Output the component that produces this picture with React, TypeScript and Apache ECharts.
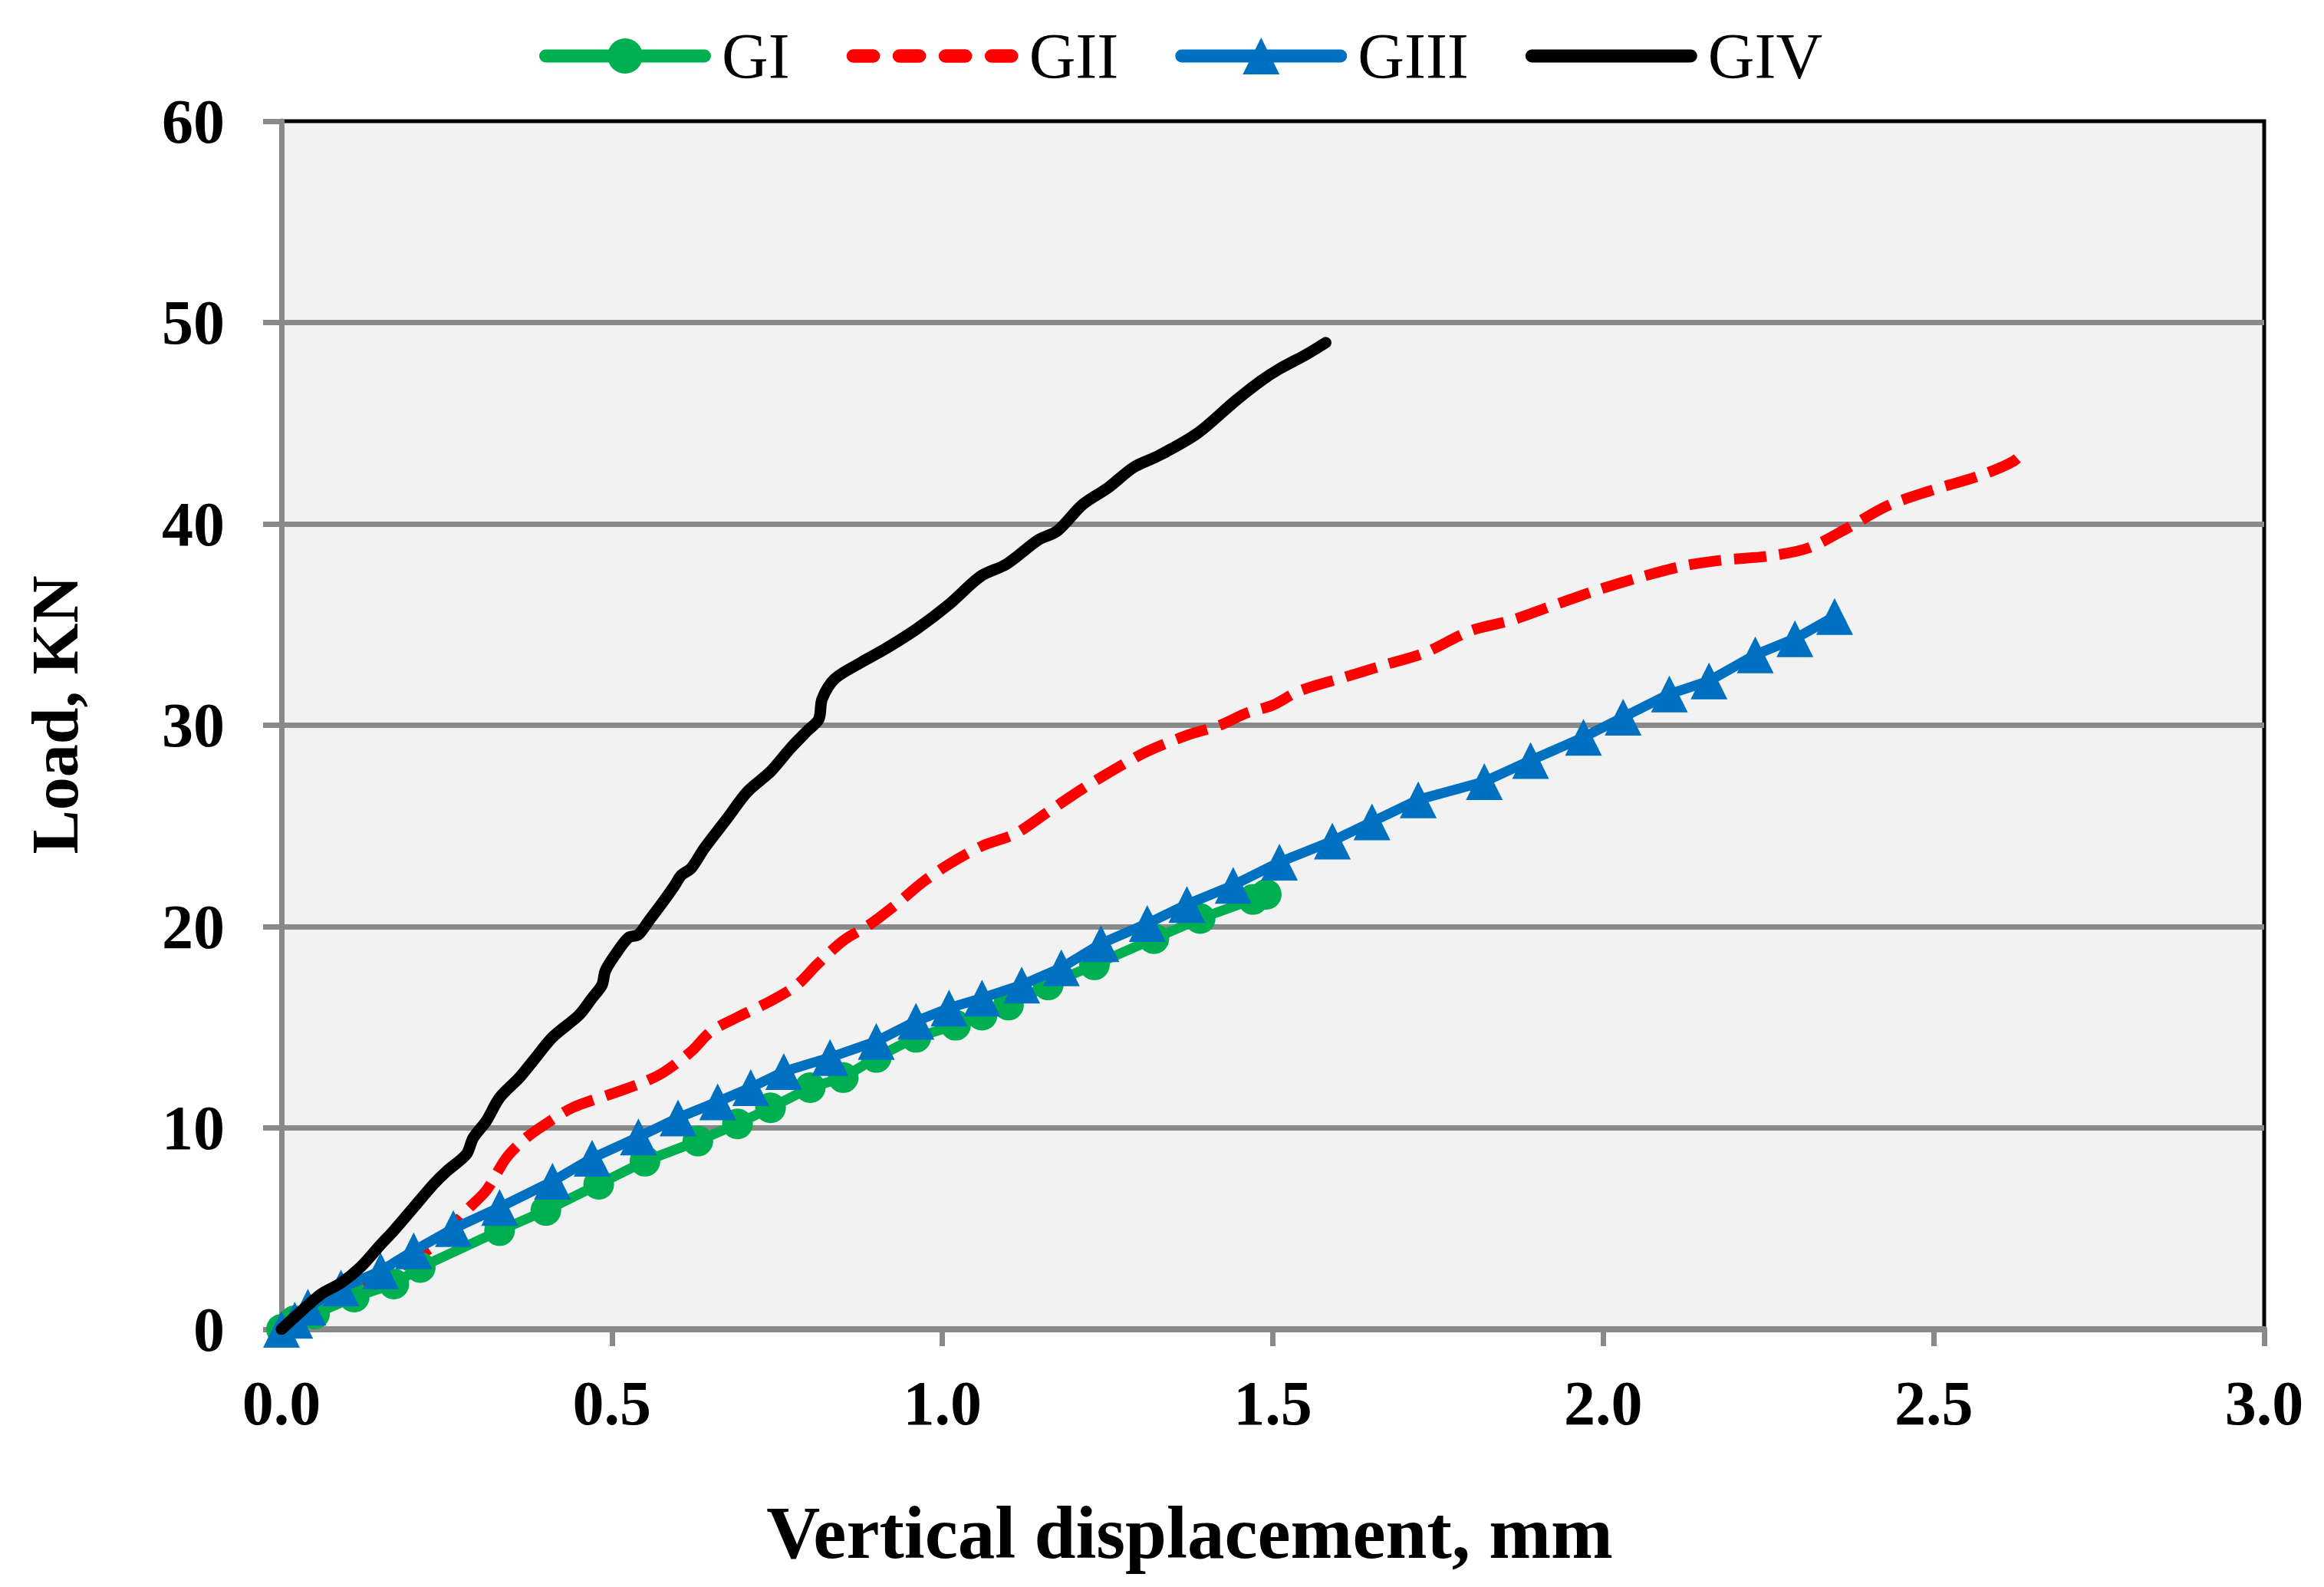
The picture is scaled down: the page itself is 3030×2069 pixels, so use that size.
import React, { useEffect, useRef } from "react";
import * as echarts from "echarts";

const SERIES_NAMES = ["GI", "GII", "GIII", "GIV"];
const X_AXIS_TITLE = "Vertical displacement, mm";
const Y_AXIS_TITLE = "Load, KN";

// [displacement (mm), load (kN)]
const GI: number[][] = [
  [0, 0], [0.02, 0.43], [0.05, 0.76], [0.11, 1.6], [0.17, 2.25], [0.21, 3.07],
  [0.33, 4.9], [0.4, 5.9], [0.48, 7.2], [0.55, 8.35], [0.63, 9.35], [0.69, 10.2],
  [0.74, 11.0], [0.8, 12.0], [0.85, 12.5], [0.9, 13.5], [0.96, 14.5], [1.02, 15.1],
  [1.06, 15.6], [1.1, 16.1], [1.16, 17.1], [1.23, 18.1], [1.32, 19.4], [1.39, 20.4],
  [1.47, 21.35], [1.49, 21.6],
];

const GII: number[][] = [
  [0, 0], [0.05, 0.8], [0.1, 1.7], [0.15, 2.6], [0.2, 3.5], [0.24, 4.4], [0.28, 5.9],
  [0.31, 6.9], [0.34, 8.5], [0.37, 9.5], [0.4, 10.2], [0.44, 11.0], [0.5, 11.7],
  [0.55, 12.3], [0.58, 12.8], [0.62, 13.8], [0.65, 14.8], [0.69, 15.5], [0.74, 16.3],
  [0.78, 17.1], [0.81, 18.1], [0.85, 19.3], [0.89, 20.1], [0.93, 21.1], [0.97, 22.2],
  [1.01, 23.1], [1.06, 24.0], [1.11, 24.6], [1.16, 25.7], [1.21, 26.8], [1.26, 27.8],
  [1.31, 28.7], [1.37, 29.5], [1.42, 30.0], [1.46, 30.6], [1.5, 31.0], [1.54, 31.7],
  [1.61, 32.4], [1.67, 33.0], [1.73, 33.6], [1.8, 34.7], [1.86, 35.2], [1.92, 35.9],
  [1.99, 36.7], [2.05, 37.3], [2.12, 37.9], [2.18, 38.2], [2.25, 38.4], [2.31, 38.8],
  [2.37, 39.8], [2.43, 40.9], [2.5, 41.7], [2.57, 42.4], [2.62, 43.1], [2.64, 43.7],
];

const GIII: number[][] = [
  [0, 0], [0.02, 0.45], [0.04, 1.1], [0.09, 2.05], [0.15, 2.9], [0.2, 3.9], [0.26, 5.0],
  [0.33, 6.05], [0.41, 7.35], [0.47, 8.5], [0.54, 9.55], [0.6, 10.5], [0.66, 11.3],
  [0.71, 12.0], [0.76, 12.8], [0.83, 13.5], [0.9, 14.3], [0.96, 15.3], [1.01, 15.95],
  [1.06, 16.45], [1.12, 17.1], [1.18, 17.95], [1.24, 19.15], [1.31, 20.15], [1.37, 21.1],
  [1.44, 22.05], [1.51, 23.2], [1.59, 24.25], [1.65, 25.2], [1.72, 26.3], [1.82, 27.2],
  [1.89, 28.25], [1.97, 29.4], [2.03, 30.4], [2.1, 31.55], [2.16, 32.2], [2.23, 33.5],
  [2.29, 34.3], [2.35, 35.4],
];

const GIV: number[][] = [
  [0, 0], [0.03, 0.9], [0.06, 1.75], [0.09, 2.3], [0.12, 3.1], [0.15, 4.2], [0.17, 4.9],
  [0.2, 6.05], [0.23, 7.2], [0.25, 7.85], [0.28, 8.7], [0.29, 9.5], [0.31, 10.35],
  [0.33, 11.5], [0.36, 12.5], [0.38, 13.3], [0.41, 14.5], [0.45, 15.6], [0.47, 16.45],
  [0.485, 17.1], [0.49, 17.8], [0.505, 18.6], [0.525, 19.45], [0.54, 19.6], [0.555, 20.25],
  [0.58, 21.35], [0.595, 22.05], [0.605, 22.55], [0.62, 22.9], [0.64, 23.9], [0.675, 25.4],
  [0.705, 26.7], [0.74, 27.7], [0.77, 28.85], [0.795, 29.7], [0.813, 30.3], [0.818, 31.3],
  [0.837, 32.3], [0.876, 33.1], [0.914, 33.8], [0.962, 34.8], [1.01, 36.0], [1.058, 37.4],
  [1.097, 38.0], [1.145, 39.2], [1.174, 39.65], [1.212, 40.95], [1.251, 41.8], [1.289, 42.8],
  [1.328, 43.4], [1.386, 44.5], [1.443, 46.1], [1.482, 47.1], [1.51, 47.7], [1.55, 48.4],
  [1.58, 49.0],
];

const X_MIN = 0, X_MAX = 3, X_STEP = 0.5;
const Y_MIN = 0, Y_MAX = 60, Y_STEP = 10;

const FONT = "'Liberation Serif', 'Times New Roman', serif";
const GRAY = "#898989";

// Legend icon geometry (icon box 224 x 60)
const R = 8.5; // half of legend line thickness
const bar = (a: number, b: number) =>
  `M${a + R},${30 - R}H${b - R}A${R},${R} 0 0 1 ${b - R},${30 + R}H${a + R}A${R},${R} 0 0 1 ${a + R},${30 - R}Z`;
const ICON_GI = "path://" + bar(0, 224) + "M89,30A23,23 0 1 1 135,30A23,23 0 1 1 89,30Z";
const ICON_GII = "path://" + bar(0, 43) + bar(59, 102) + bar(118, 161) + bar(177, 220);
const ICON_GIII = "path://" + bar(0, 224) + "M112,6L136,54L88,54Z";
const ICON_GIV = "path://" + bar(0, 224);

export default function App() {
  const ref = useRef<HTMLDivElement>(null);

  useEffect(() => {
    if (!ref.current) return;
    const chart = echarts.init(ref.current, undefined, { renderer: "svg" });
    const icons = [ICON_GI, ICON_GII, ICON_GIII, ICON_GIV];
    const option: any = {
      animation: false,
      backgroundColor: "#ffffff",
      legend: {
        data: SERIES_NAMES.map((name, i) => ({ name, icon: icons[i] })),
        left: 698,
        top: 26,
        itemWidth: 224,
        itemHeight: 60,
        itemGap: 74,
        textStyle: {
          fontFamily: FONT,
          fontSize: 84,
          fontWeight: "normal",
          color: "#000",
          padding: [0, 0, 0, 9],
        },
      },
      grid: {
        left: 367,
        right: 78,
        top: 158,
        bottom: 336,
        show: true,
        backgroundColor: "#f2f2f2",
        borderColor: "#000",
        borderWidth: 5,
      },
      xAxis: {
        type: "value",
        min: X_MIN,
        max: X_MAX,
        interval: X_STEP,
        axisLine: { show: true, lineStyle: { color: GRAY, width: 8 } },
        axisTick: { show: true, inside: false, length: 22, lineStyle: { color: GRAY, width: 7 } },
        splitLine: { show: false },
        axisLabel: {
          margin: 55,
          fontFamily: FONT,
          fontSize: 82,
          fontWeight: "bold",
          color: "#000",
          formatter: (v: number) => v.toFixed(1),
        },
      },
      yAxis: {
        type: "value",
        min: Y_MIN,
        max: Y_MAX,
        interval: Y_STEP,
        axisLine: { show: true, lineStyle: { color: GRAY, width: 7 } },
        axisTick: { show: true, inside: false, length: 24, lineStyle: { color: GRAY, width: 7 } },
        splitLine: { show: true, showMaxLine: false, lineStyle: { color: GRAY, width: 7 } },
        axisLabel: {
          margin: 74,
          fontFamily: FONT,
          fontSize: 82,
          fontWeight: "bold",
          color: "#000",
        },
      },
      graphic: [
        {
          type: "text",
          x: 1551,
          y: 1998,
          style: {
            text: X_AXIS_TITLE,
            fontFamily: FONT,
            fontSize: 97,
            fontWeight: "bold",
            fill: "#000",
            textAlign: "center",
            textVerticalAlign: "middle",
          },
        },
        {
          type: "text",
          x: 72,
          y: 932,
          rotation: Math.PI / 2,
          style: {
            text: Y_AXIS_TITLE,
            fontFamily: FONT,
            fontSize: 86,
            fontWeight: "bold",
            fill: "#000",
            textAlign: "center",
            textVerticalAlign: "middle",
          },
        },
      ],
      series: [
        {
          name: "GI",
          type: "line",
          data: GI,
          z: 3,
          symbol: "circle",
          symbolSize: 40,
          showSymbol: true,
          itemStyle: { color: "#00B050" },
          lineStyle: { color: "#00B050", width: 13, cap: "round", join: "round" },
        },
        {
          name: "GII",
          type: "line",
          data: GII,
          z: 2,
          symbol: "none",
          smooth: 0.3,
          itemStyle: { color: "#FF0000" },
          lineStyle: { color: "#FF0000", width: 14, type: [42, 17], join: "round" },
        },
        {
          name: "GIII",
          type: "line",
          data: GIII,
          z: 4,
          symbol: "triangle",
          symbolSize: [48, 48],
          showSymbol: true,
          itemStyle: { color: "#0070C0" },
          lineStyle: { color: "#0070C0", width: 13, cap: "round", join: "round" },
        },
        {
          name: "GIV",
          type: "line",
          data: GIV,
          z: 5,
          symbol: "none",
          smooth: 0.3,
          itemStyle: { color: "#000000" },
          lineStyle: { color: "#000000", width: 15, cap: "round", join: "round" },
        },
      ],
    };
    chart.setOption(option);
    return () => chart.dispose();
  }, []);

  return (
    <div
      ref={ref}
      style={{ position: "absolute", left: 0, top: 0, width: 3030, height: 2069 }}
    />
  );
}
